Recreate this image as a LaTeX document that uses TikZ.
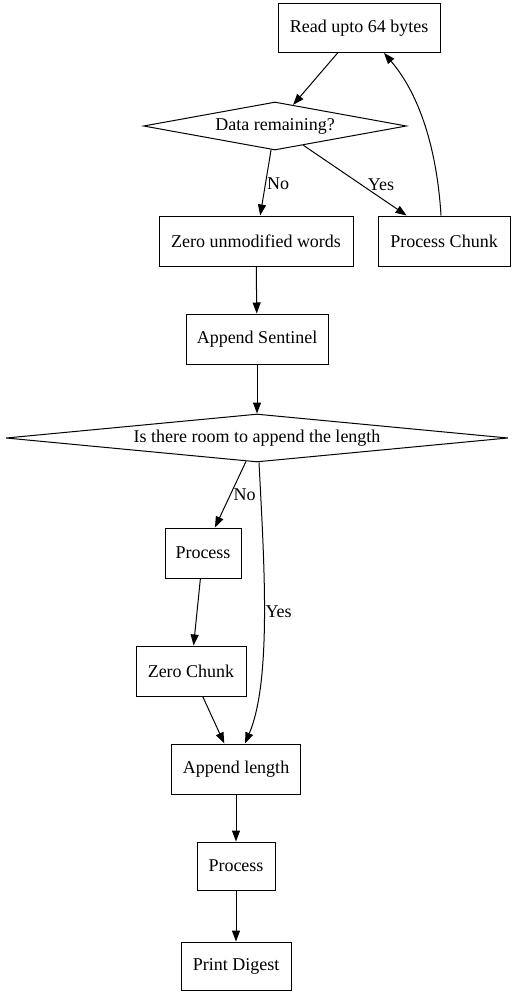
\documentclass[tikz,border=0pt]{standalone}
\usepackage{fontspec}
\setmainfont{Liberation Serif}
\usetikzlibrary{shapes.geometric,arrows.meta}
\begin{document}
\begin{tikzpicture}[x=1pt,y=-1pt,
  every node/.style={font=\fontsize{18}{20}\selectfont},
  box/.style={draw,line width=1pt,rectangle,inner sep=0pt,minimum height=49pt},
  dia/.style={draw,line width=1pt,diamond,inner sep=0pt},
  edge/.style={line width=1pt,-{Triangle[length=11pt,width=8pt]}},
  lbl/.style={inner sep=1pt}]
\useasboundingbox (0,0) rectangle (514,996);
\node[box,minimum width=162pt] (read) at (359,28) {Read upto 64 bytes};
\node[dia,minimum width=263pt,minimum height=48pt,aspect=5.48] (data) at (275,126) {Data remaining?};
\node[box,minimum width=194pt,minimum height=50pt] (zuw) at (256,241) {Zero unmodified words};
\node[box,minimum width=132pt,minimum height=50pt] (pc) at (444,241) {Process Chunk};
\node[box,minimum width=142pt,minimum height=50pt] (as) at (257,339) {Append Sentinel};
\node[dia,minimum width=502pt,minimum height=48pt,aspect=10.46] (room) at (257,438) {Is there room to append the length};
\node[box,minimum width=76pt,minimum height=50pt] (p1) at (203,553) {Process};
\node[box,minimum width=110pt,minimum height=50pt] (zc) at (191,671) {Zero Chunk};
\node[box,minimum width=129pt,minimum height=50pt] (al) at (236,769) {Append length};
\node[box,minimum width=78pt,minimum height=48pt] (p2) at (236,866) {Process};
\node[box,minimum width=110pt,minimum height=48pt] (pd) at (236,966) {Print Digest};

\draw[edge] (read) -- (data);
\draw[edge] (data) -- node[lbl,right,pos=0.5,yshift=-1pt] {No} (zuw);
\draw[edge] (data) -- node[lbl,above right,pos=0.62,xshift=-1pt,yshift=-3pt] {Yes} (pc);
\draw[edge] ([xshift=-3pt]pc.north) .. controls (437,150) and (420,95) .. ([xshift=25pt]read.south);
\draw[edge] (zuw) -- (as);
\draw[edge] (as) -- (room);
\draw[edge] (room) -- node[lbl,right,pos=0.45,yshift=-4pt] {No} (p1);
\draw[edge] ([xshift=2pt]room.south) .. controls (264,560) and (272,680) .. node[lbl,right,pos=0.5,xshift=0pt,yshift=4pt] {Yes} ([xshift=9pt]al.north);
\draw[edge] (p1) -- (zc);
\draw[edge] (zc) -- (al);
\draw[edge] (al) -- (p2);
\draw[edge] (p2) -- (pd);
\end{tikzpicture}
\end{document}
